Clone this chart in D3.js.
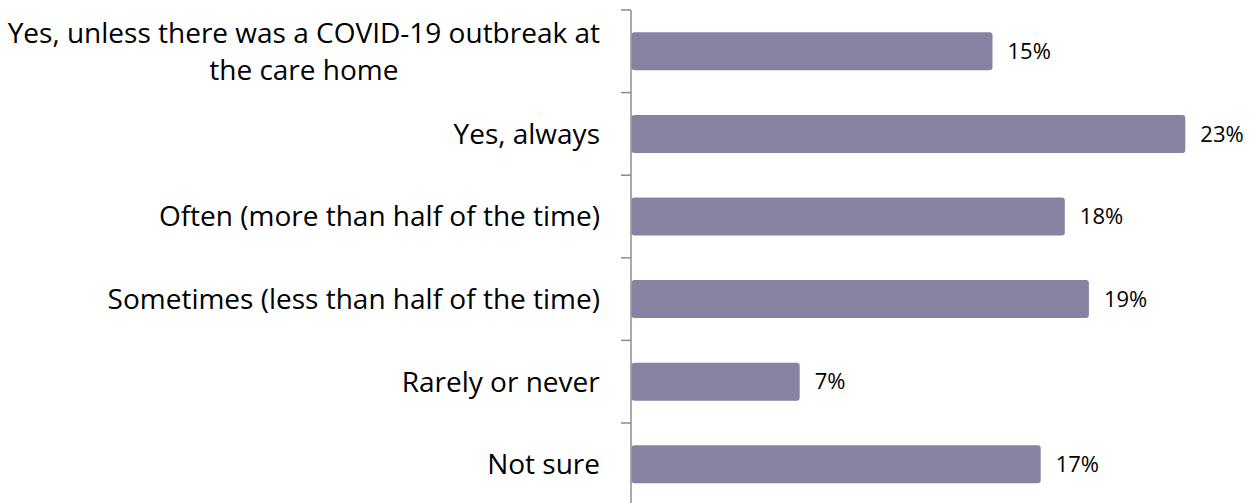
<!DOCTYPE html>
<html><head><meta charset="utf-8">
<script src="https://cdn.jsdelivr.net/npm/d3@7"></script>
<style>body{margin:0;background:#fff}svg{display:block}</style>
</head><body>
<script>
const categories = [
  ["Yes, unless there was a COVID-19 outbreak at", "the care home"],
  ["Yes, always"],
  ["Often (more than half of the time)"],
  ["Sometimes (less than half of the time)"],
  ["Rarely or never"],
  ["Not sure"]
];
const values = [15, 23, 18, 19, 7, 17];
const valueLabels = ["15%", "23%", "18%", "19%", "7%", "17%"];

const W = 1259, H = 503;
const svg = d3.select("body").append("svg").attr("width", W).attr("height", H);
const x0 = 631;
const x = d3.scaleLinear().domain([0, 25]).range([x0, x0 + 25 * 24.1]);
const y = d3.scaleBand().domain(d3.range(categories.length)).range([10, 10 + 6 * 82.6]).paddingInner(0.54).paddingOuter(0.27);
const band = d3.scaleBand().domain(d3.range(categories.length)).range([10, 10 + 6 * 82.6]);

// bars
svg.selectAll("rect.bar").data(values).join("rect")
  .attr("class", "bar")
  .attr("x", x(0) + 0.5)
  .attr("y", (d, i) => y(i))
  .attr("width", d => x(d) - x(0) - 0.5)
  .attr("height", y.bandwidth())
  .attr("rx", 3).attr("ry", 3)
  .attr("fill", "#8781A2");

// axis
const axisG = svg.append("g");
axisG.append("line").attr("x1", x0).attr("x2", x0).attr("y1", 10).attr("y2", H)
  .attr("stroke", "#8c8c8c").attr("stroke-width", 1.5);
const tickPos = d3.range(categories.length + 1).map(i => 10 + i * band.step());
axisG.selectAll("line.tick").data(tickPos).join("line").attr("class", "tick")
  .attr("x1", x0 - 10).attr("x2", x0).attr("y1", d => d).attr("y2", d => d)
  .attr("stroke", "#8c8c8c").attr("stroke-width", 1.5);

// category labels
const font = "'Open Sans', sans-serif";
const lh = 37;
categories.forEach((lines, i) => {
  const cy = band(i) + band.bandwidth() / 2;
  const g = svg.append("text")
    .attr("font-family", font).attr("font-size", 28).attr("fill", "#000")
    .attr("text-anchor", "middle");
  const n = lines.length;
  lines.forEach((t, k) => {
    g.append("tspan").attr("x", 0).attr("y", cy + (k - (n - 1) / 2) * lh).attr("dy", "0.35em").text(t);
  });
  const bb = g.node().getBBox();
  g.attr("transform", `translate(${600 - bb.width / 2},0)`);
});

// value labels
svg.selectAll("text.val").data(values).join("text")
  .attr("class", "val")
  .attr("x", d => x(d) + 15)
  .attr("y", (d, i) => y(i) + y.bandwidth() / 2)
  .attr("dy", "0.35em")
  .attr("font-family", font).attr("font-size", 22).attr("fill", "#000")
  .text((d, i) => valueLabels[i]);
</script>
</body></html>
